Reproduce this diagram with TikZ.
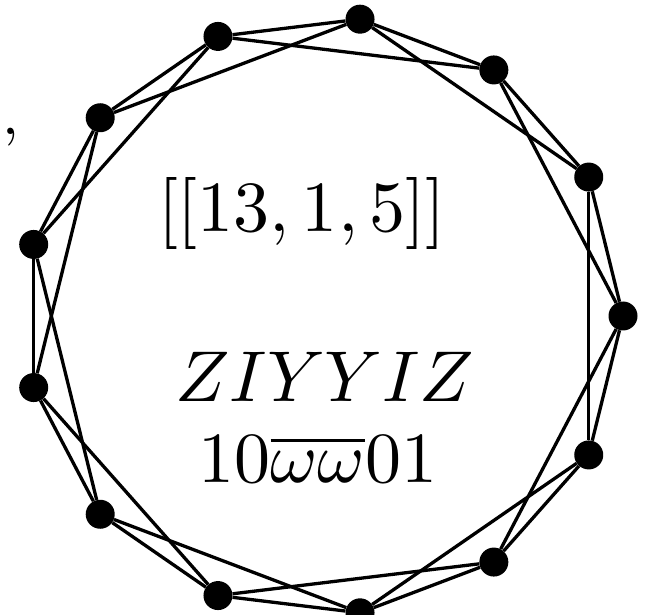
\documentclass[tikz,border=0pt]{standalone}
\usepackage{graphicx}
\tikzset{
  vtx/.style={circle, fill=black, inner sep=0pt, minimum size=29pt},
  edge/.style={line width=3.3pt, black},
  bigtext/.style={inner sep=0pt, anchor=base},
}
\newcommand{\hugemath}[1]{\scalebox{7.2}{$#1$}}
\begin{document}
\begin{tikzpicture}[x=1pt,y=1pt]
\useasboundingbox (0,0) rectangle (648,614);
\foreach \i in {0,...,12}{
  \node[vtx] (v\i) at ({324+299*cos(\i*360/13)},{298+299*sin(\i*360/13)}) {};
}
\foreach \i in {0,...,12}{
  \pgfmathtruncatemacro{\ja}{mod(\i+1,13)}
  \pgfmathtruncatemacro{\jb}{mod(\i+2,13)}
  \draw[edge] (v\i) -- (v\ja);
  \draw[edge] (v\i) -- (v\jb);
}
\node[bigtext] (code) at (302,382) {\hugemath{[[13,1,5]]}};
\node[bigtext] (pauli) at (325,212) {\hugemath{ZIYYIZ}};
\node[bigtext] (word) at (318,132) {\hugemath{10\overline{\omega\omega}01}};
\node[inner sep=0pt, anchor=base west] (comma) at (2,479) {\scalebox{6}{,}};
\end{tikzpicture}
\end{document}
